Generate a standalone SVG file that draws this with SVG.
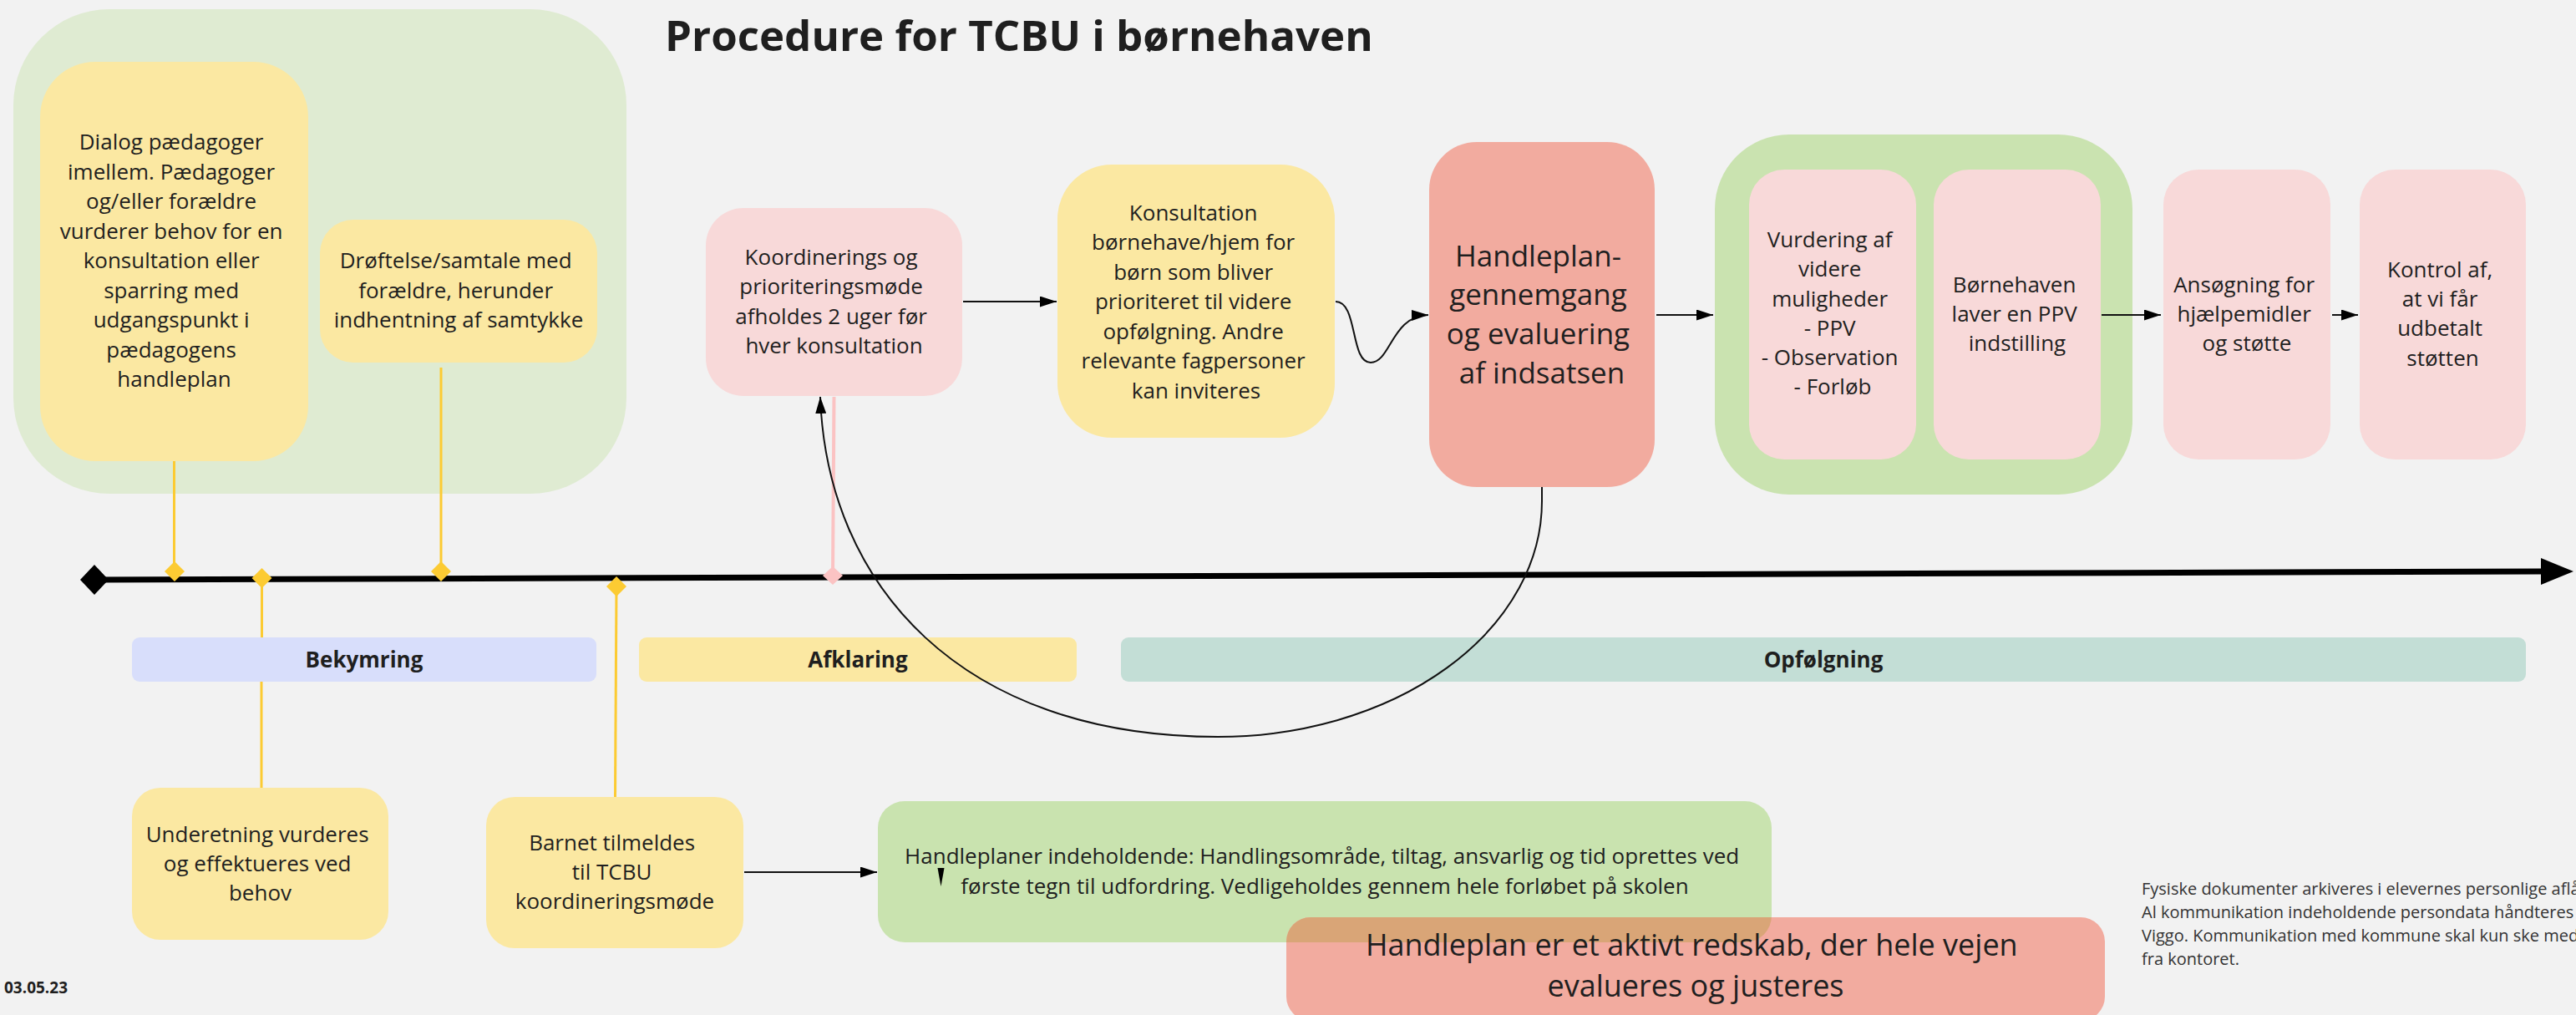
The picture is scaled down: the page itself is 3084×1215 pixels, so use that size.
<svg xmlns="http://www.w3.org/2000/svg" width="3084" height="1215" viewBox="0 0 3084 1215">
  <defs>
    <style>
      .t { font-family: "Open Sans", "Noto Sans", "DejaVu Sans", sans-serif; font-size: 26px; fill: #1f1f1f; text-anchor: middle; }
      .big { font-size: 35px; }
      .note { font-size: 36px; }
      .band-label { font-family: "Open Sans", "Noto Sans", sans-serif; font-size: 26px; font-weight: 700; fill: #1f1f1f; text-anchor: middle; }
      .yellow { fill: #fbe8a2; }
      .pink { fill: #f8d9d9; }
      .salmon { fill: #f2ab9f; }
      .green { fill: #c9e3af; }
      .conn { fill: none; stroke: #111; stroke-width: 2; }
      .stem { fill: none; stroke: #fccb33; stroke-width: 3; }
      .stem-pink { fill: none; stroke: #fbc3c3; stroke-width: 4; }
    </style>
    <marker id="arrow" markerUnits="userSpaceOnUse" viewBox="0 0 20 13" refX="20" refY="6.5" markerWidth="20" markerHeight="13" orient="auto">
      <path d="M0,0 L20,6.5 L0,13 z" fill="#000"/>
    </marker>
    <clipPath id="clip-plans">
      <rect x="1051" y="959" width="1070" height="169" rx="32"/>
    </clipPath>
  </defs>

  <!-- canvas -->
  <rect width="3084" height="1215" fill="#f2f2f2"/>

  <!-- title and date -->
  <text x="796" y="61" font-family="'Open Sans', 'Noto Sans', sans-serif" font-size="51" font-weight="700" fill="#1f1f1f">Procedure for TCBU i børnehaven</text>
  <text x="5" y="1189" font-family="'Open Sans', 'Noto Sans', sans-serif" font-size="19" font-weight="700" fill="#1f1f1f">03.05.23</text>

  <!-- concern phase container -->
  <g id="concern-group">
    <rect x="16" y="11" width="734" height="580" rx="115" fill="#dfebd2"/>
  </g>

  <g id="dialog">
    <rect class="yellow" x="48" y="74" width="321" height="478" rx="66"/>
    <text class="t">
      <tspan x="208.5" y="179">Dialog pædagoger</tspan>
      <tspan x="208.5" y="214.5">imellem. Pædagoger</tspan>
      <tspan x="208.5" y="250">og/eller forældre</tspan>
      <tspan x="208.5" y="285.5">vurderer behov for en</tspan>
      <tspan x="208.5" y="321">konsultation eller</tspan>
      <tspan x="208.5" y="356.5">sparring med</tspan>
      <tspan x="208.5" y="392">udgangspunkt i</tspan>
      <tspan x="208.5" y="427.5">pædagogens</tspan>
      <tspan x="208.5" y="463">handleplan</tspan>
    </text>
  </g>

  <g id="parent-talk">
    <rect class="yellow" x="383" y="263" width="332" height="171" rx="40"/>
    <text class="t">
      <tspan x="549" y="321">Drøftelse/samtale med</tspan>
      <tspan x="549" y="356.5">forældre, herunder</tspan>
      <tspan x="549" y="392">indhentning af samtykke</tspan>
    </text>
  </g>

  <g id="coordination">
    <rect class="pink" x="845" y="249" width="307" height="225" rx="45"/>
    <text class="t">
      <tspan x="998.5" y="317">Koordinerings og</tspan>
      <tspan x="998.5" y="352">prioriteringsmøde</tspan>
      <tspan x="998.5" y="387.5">afholdes 2 uger før</tspan>
      <tspan x="998.5" y="422.5">hver konsultation</tspan>
    </text>
  </g>

  <g id="consultation">
    <rect class="yellow" x="1266" y="197" width="332" height="327" rx="65"/>
    <text class="t">
      <tspan x="1432" y="263.5">Konsultation</tspan>
      <tspan x="1432" y="299">børnehave/hjem for</tspan>
      <tspan x="1432" y="334.5">børn som bliver</tspan>
      <tspan x="1432" y="370">prioriteret til videre</tspan>
      <tspan x="1432" y="405.5">opfølgning. Andre</tspan>
      <tspan x="1432" y="441">relevante fagpersoner</tspan>
      <tspan x="1432" y="476.5">kan inviteres</tspan>
    </text>
  </g>

  <g id="plan-review">
    <rect class="salmon" x="1711" y="170" width="270" height="413" rx="57"/>
    <text class="t big">
      <tspan x="1846" y="318.5">Handleplan-</tspan>
      <tspan x="1846" y="365">gennemgang</tspan>
      <tspan x="1846" y="412">og evaluering</tspan>
      <tspan x="1846" y="458.5">af indsatsen</tspan>
    </text>
  </g>

  <g id="ppv-group">
    <rect x="2053" y="161" width="500" height="431" rx="89" fill="#cae3b0"/>
  </g>

  <g id="assessment">
    <rect class="pink" x="2094" y="203" width="200" height="347" rx="42"/>
    <text class="t">
      <tspan x="2194" y="295.5">Vurdering af</tspan>
      <tspan x="2194" y="331">videre</tspan>
      <tspan x="2194" y="366.5">muligheder</tspan>
      <tspan x="2194" y="402">- PPV</tspan>
      <tspan x="2194" y="437">- Observation</tspan>
      <tspan x="2194" y="472">- Forløb</tspan>
    </text>
  </g>

  <g id="ppv-recommendation">
    <rect class="pink" x="2315" y="203" width="200" height="347" rx="42"/>
    <text class="t">
      <tspan x="2415" y="350">Børnehaven</tspan>
      <tspan x="2415" y="385">laver en PPV</tspan>
      <tspan x="2415" y="420">indstilling</tspan>
    </text>
  </g>

  <g id="application">
    <rect class="pink" x="2590" y="203" width="200" height="347" rx="42"/>
    <text class="t">
      <tspan x="2690" y="350">Ansøgning for</tspan>
      <tspan x="2690" y="385">hjælpemidler</tspan>
      <tspan x="2690" y="420">og støtte</tspan>
    </text>
  </g>

  <g id="payment-check">
    <rect class="pink" x="2825" y="203" width="199" height="347" rx="42"/>
    <text class="t">
      <tspan x="2924.5" y="332">Kontrol af,</tspan>
      <tspan x="2924.5" y="367">at vi får</tspan>
      <tspan x="2924.5" y="402">udbetalt</tspan>
      <tspan x="2924.5" y="437.5">støtten</tspan>
    </text>
  </g>

  <!-- timeline axis -->
  <g id="timeline">
    <line x1="113" y1="694" x2="3044" y2="684" stroke="#000" stroke-width="7"/>
    <polygon points="96,694 113,676 130,694 113,712" fill="#000"/>
    <polygon points="3042,668 3081,684 3042,700" fill="#000"/>
  </g>

  <!-- phase bands -->
  <g id="phase-concern">
    <rect x="158" y="763" width="556" height="53" rx="9" fill="#d8defb"/>
    <text class="band-label" x="436" y="799">Bekymring</text>
  </g>
  <g id="phase-clarification">
    <rect x="765" y="763" width="524" height="53" rx="9" fill="#fbe8a2"/>
    <text class="band-label" x="1027" y="799">Afklaring</text>
  </g>
  <g id="phase-followup">
    <rect x="1342" y="763" width="1682" height="53" rx="9" fill="#c3ded6"/>
    <text class="band-label" x="2183" y="799">Opfølgning</text>
  </g>

  <g id="notification">
    <rect class="yellow" x="158" y="943" width="307" height="182" rx="34"/>
    <text class="t">
      <tspan x="311.5" y="1007.5">Underetning vurderes</tspan>
      <tspan x="311.5" y="1043">og effektueres ved</tspan>
      <tspan x="311.5" y="1078">behov</tspan>
    </text>
  </g>

  <g id="registration">
    <rect class="yellow" x="582" y="954" width="308" height="181" rx="34"/>
    <text class="t">
      <tspan x="736" y="1017.5">Barnet tilmeldes</tspan>
      <tspan x="736" y="1053">til TCBU</tspan>
      <tspan x="736" y="1088">koordineringsmøde</tspan>
    </text>
  </g>

  <g id="action-plans">
    <rect class="green" x="1051" y="959" width="1070" height="169" rx="32"/>
  </g>

  <g id="plan-note">
    <rect class="salmon" x="1540" y="1098" width="980" height="124" rx="29"/>
    <rect x="1540" y="1098" width="980" height="124" rx="29" fill="#d9a577" clip-path="url(#clip-plans)"/>
  </g>

  <!-- texts of the action-plan box and the note sit above both shapes -->
  <g id="action-plans-text">
    <text class="t">
      <tspan x="1586" y="1034">Handleplaner indeholdende: Handlingsområde, tiltag, ansvarlig og tid oprettes ved</tspan>
      <tspan x="1586" y="1069.5">første tegn til udfordring. Vedligeholdes gennem hele forløbet på skolen</tspan>
    </text>
    <polygon points="1122.5,1039 1130.5,1039 1126.5,1061" fill="#000"/>
  </g>
  <g id="plan-note-text">
    <text class="t note">
      <tspan x="2030" y="1143.5">Handleplan er et aktivt redskab, der hele vejen</tspan>
      <tspan x="2030" y="1192.5">evalueres og justeres</tspan>
    </text>
  </g>

  <!-- storage and communication remark -->
  <g id="remark">
    <text font-family="'Open Sans', 'Noto Sans', sans-serif" font-size="20" fill="#333">
      <tspan x="2564" y="1071">Fysiske dokumenter arkiveres i elevernes personlige aflå</tspan>
      <tspan x="2564" y="1099">Al kommunikation indeholdende persondata håndteres</tspan>
      <tspan x="2564" y="1127">Viggo. Kommunikation med kommune skal kun ske med</tspan>
      <tspan x="2564" y="1155">fra kontoret.</tspan>
    </text>
  </g>

  <!-- connectors -->
  <g id="connectors">
    <!-- stems from the cards to the timeline -->
    <path class="stem" d="M208.5,552 V684"/>
    <polygon points="209,672 221,684 209,696 197,684" fill="#fccb33"/>
    <path class="stem" d="M528,440 V684"/>
    <polygon points="528,672 540,684 528,696 516,684" fill="#fccb33"/>
    <path class="stem" d="M313.5,692 V763 M313,816 V943"/>
    <polygon points="313.5,680 325.5,692 313.5,704 301.5,692" fill="#fccb33"/>
    <path class="stem" d="M738,702 L736.5,954"/>
    <polygon points="738,690 750,702 738,714 726,702" fill="#fccb33"/>
    <path class="stem-pink" d="M998.5,475 L997,689"/>
    <polygon points="997,678 1009,689 997,700 985,689" fill="#fbc3c3"/>

    <!-- flow arrows -->
    <path class="conn" d="M1153,361 H1265" marker-end="url(#arrow)"/>
    <path class="conn" d="M1599,361 C1626,361 1616,434 1641,434 C1665,434 1666,378 1710,377" marker-end="url(#arrow)"/>
    <path class="conn" d="M1983,377 H2051" marker-end="url(#arrow)"/>
    <path class="conn" d="M2516,377 H2587" marker-end="url(#arrow)"/>
    <path class="conn" d="M2792,377 H2823" marker-end="url(#arrow)"/>
    <path class="conn" d="M891,1044 H1050" marker-end="url(#arrow)"/>

    <!-- loop from review back to coordination -->
    <path class="conn" d="M1846,583 L1846,600 A388,282 0 0 1 1458,882 C1150,882 990,700 982,475" marker-end="url(#arrow)"/>
  </g>
</svg>
